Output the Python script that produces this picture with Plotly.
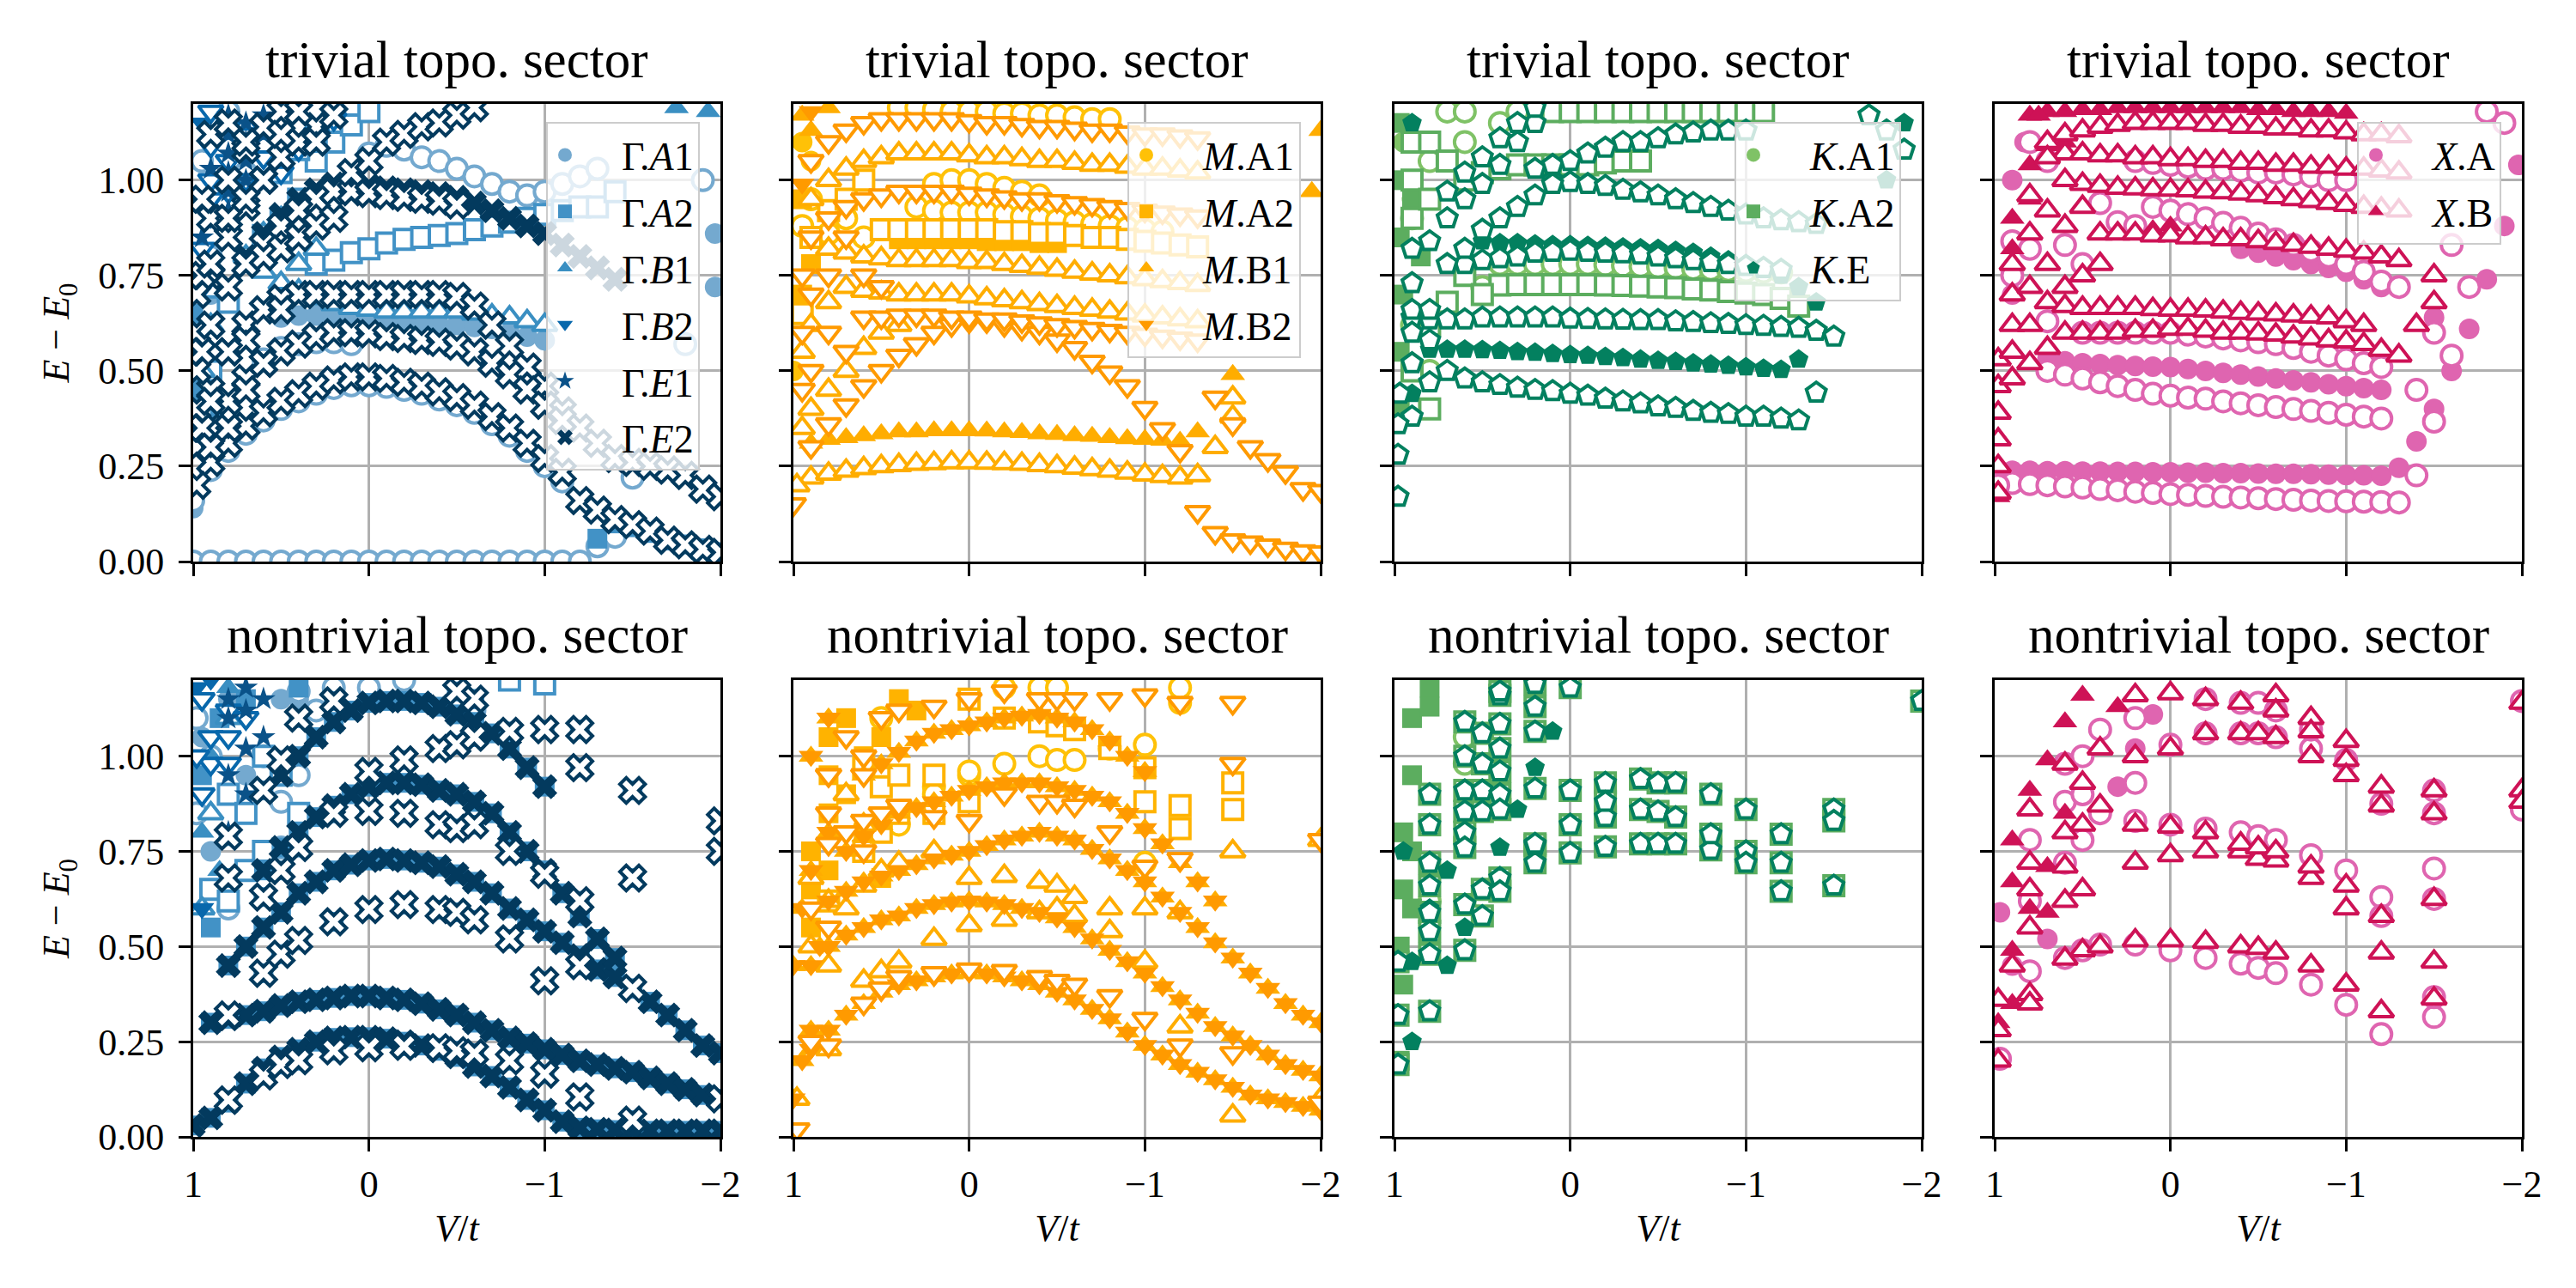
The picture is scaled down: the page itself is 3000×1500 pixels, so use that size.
import plotly.graph_objects as go
from plotly.subplots import make_subplots

# V/t values of the scan (dense grid) and of the larger cluster (sparse grid)
V = [1.0, 0.9, 0.8, 0.7, 0.6, 0.5, 0.4, 0.3, 0.2, 0.1, 0.0, -0.1, -0.2, -0.3, -0.4,
     -0.5, -0.6, -0.7, -0.8, -0.9, -1.0, -1.1, -1.2, -1.3, -1.4, -1.5, -1.6, -1.7,
     -1.8, -1.9, -2.0]
VS = [0.8, 0.6, 0.5, 0.4, 0.2, 0.0, -0.2, -0.4, -0.5, -0.6, -0.8, -1.0, -1.2, -1.5, -2.0]

# ---------------- Gamma, trivial sector (E - E0) ----------------
gt_a1_o_zero = [0.0, 0.0, 0.0, 0.0, 0.0, 0.0, 0.0, 0.0, 0.0, 0.0, 0.0, 0.0, 0.0, 0.0,
                0.0, 0.0, 0.0, 0.0, 0.0, 0.0, 0.0, 0.0, 0.0]
gt_a1_o_low = [0.24, 0.29, 0.335, 0.37, 0.40, 0.42, 0.44, 0.455, 0.462, 0.462, 0.458, 0.45,
               0.44, 0.425, 0.41, 0.39, 0.36, 0.33, 0.29, 0.25, 0.21]
gt_a1_o_mid = [0.53, 0.56, 0.57, 0.575, 0.575, 0.57]
gt_a1_o_hi = [1.07, 1.09, 1.08, 1.06, 1.05, 1.03, 1.01, 0.99, 0.97, 0.96, 0.97, 0.99, 1.01, 1.03]
gt_a1_f_mid = [0.64, 0.645, 0.645, 0.645, 0.64, 0.64, 0.635, 0.63, 0.625, 0.62, 0.62, 0.615,
               0.61, 0.6, 0.59, 0.58]
gt_a1_f_pts_x = [1.0, 0.95, 0.9, -1.97, -1.97]
gt_a1_f_pts_y = [0.14, 0.4, 0.7, 0.86, 0.72]
gt_a1_o_pts_x = [1.0, 0.98, 0.95, 0.9, 0.8, 0.7, -1.3, -1.4, -1.5, -1.8, -1.9]
gt_a1_o_pts_y = [0.16, 0.55, 1.05, 0.8, 1.18, 1.02, 0.04, 0.065, 0.22, 0.57, 1.0]
gt_a2_o_mid = [0.78, 0.79, 0.81, 0.82, 0.835, 0.845, 0.85, 0.855, 0.86, 0.87, 0.88, 0.89, 0.9,
               0.91, 0.92, 0.93, 0.93]
gt_a2_o_top = [1.05, 1.1, 1.145, 1.18]
gt_a2_o_pts_x = [0.95, 0.9, 0.9, 0.8, 0.6, 0.5, 0.5, 0.4, 0.4, 0.3, -1.4]
gt_a2_o_pts_y = [0.4, 0.5, 0.72, 0.68, 0.855, 0.9, 1.02, 0.95, 1.08, 1.12, 0.97]
gt_a2_f_tail = [0.06, 0.1, 0.09, 0.075, 0.055, 0.045, 0.035, 0.025]
gt_a2_f_pts_x = [0.95, 0.9, 1.0]
gt_a2_f_pts_y = [0.45, 0.395, 0.65]
gt_b1_o_mid = [0.8, 0.76, 0.73, 0.71, 0.69, 0.675, 0.665, 0.66, 0.655, 0.655, 0.655, 0.655,
               0.655, 0.65, 0.645, 0.64, 0.63, 0.62]
gt_b1_o_pts_x = [0.95, 0.9, 0.6, 0.5, 0.4, 0.3]
gt_b1_o_pts_y = [0.5, 0.62, 0.86, 0.9, 0.78, 0.82]
gt_b1_f_pts_x = [1.0, -1.75, -1.93]
gt_b1_f_pts_y = [0.6, 1.19, 1.18]
gt_b2_o_pts_x = [0.95, 0.95, 0.9, 0.9, 0.9, 0.9, 0.8, 0.8, 0.8, 0.7, 0.7, 0.6, 0.6, 0.5, 0.4,
                 0.3, 0.2]
gt_b2_o_pts_y = [0.82, 0.72, 1.18, 1.09, 1.0, 0.95, 1.14, 1.05, 0.97, 1.12, 1.0, 1.14, 1.06,
                 1.02, 1.08, 1.12, 1.16]
gt_b2_f_pts_x = [0.95, 0.9]
gt_b2_f_pts_y = [1.15, 0.9]
gt_e1_f_pts_x = [0.95, 0.95, 0.9, 0.9, 0.8, 0.8, 0.8, 0.8, 0.8, 0.8, 0.7, 0.7, 0.7, 0.7, 0.6, 0.6]
gt_e1_f_pts_y = [0.85, 0.6, 1.12, 1.03, 1.17, 1.12, 1.07, 1.02, 0.97, 0.92, 1.15, 1.1, 1.05,
                 1.0, 1.17, 1.12]
gt_e2_f_hi = [0.8, 0.86, 0.91, 0.95, 0.975, 0.99, 0.99, 0.985, 0.98, 0.975, 0.97, 0.965, 0.955,
              0.94, 0.92, 0.9, 0.88, 0.86, 0.83, 0.8, 0.77, 0.74]
gt_e2_o_low = [None, 0.26, 0.31, 0.355, 0.39, 0.42, 0.44, 0.46, 0.476, 0.484, 0.484, 0.48, 0.47,
               0.46, 0.445, 0.43, 0.41, 0.38, 0.35, 0.31, 0.27, 0.234, 0.16, 0.135, 0.11, 0.097,
               0.08, 0.056, 0.044, 0.032, 0.024]
gt_e2_o_mida = [0.45, 0.55, 0.62, 0.66, 0.69, 0.70, 0.70, 0.70, 0.70, 0.70, 0.70, 0.70, 0.70,
                0.70, 0.695, 0.67, 0.62, 0.565, 0.51, 0.46, 0.395, 0.35, 0.31, 0.27, 0.26, 0.25,
                0.24, 0.226, 0.19, 0.17]
gt_e2_o_midb = [0.35, 0.42, 0.48, 0.52, 0.55, 0.57, 0.59, 0.6, 0.6, 0.597, 0.59, 0.585, 0.58,
                0.575, 0.565, 0.55, 0.52, 0.49, 0.45, 0.41, 0.37]
gt_e2_o_hi = [0.83, 0.88, 0.92, 0.95, 0.97, 0.97, 0.965, 0.96, 0.955, 0.95, 0.945, 0.935]
gt_e2_o_top = [1.02, 1.05, 1.1, 1.12, 1.14, 1.15, 1.17, 1.19]
gt_e2_o_rise1 = [0.75, 0.85, 0.93, 1.0, 1.06, 1.1, 1.14, 1.17]
gt_e2_o_rise2 = [0.9, 1.0, 1.08, 1.14, 1.18]
gt_e2_o_pts_x = [0.98, 0.98, 0.98, 0.98, 0.98, 0.98, 0.95, 0.95, 0.95, 0.95, 0.9, 0.8, 0.7, 0.6,
                 0.5, 0.9, 0.9, 0.9, 0.9, 0.8, 0.8, 0.8, 0.8, 0.7, 0.7, 0.7, 0.7, 0.6, 0.6, 0.6,
                 0.5, 0.5, 0.4, 0.4, 0.4, 0.3, 0.3, 0.2]
gt_e2_o_pts_y = [0.2, 0.3, 0.4, 0.5, 0.6, 0.7, 0.35, 0.55, 0.75, 0.95, 0.62, 0.72, 0.58, 0.83,
                 0.66, 0.3, 0.42, 0.78, 1.12, 0.35, 0.55, 0.9, 1.15, 0.45, 0.78, 0.95, 1.1, 0.52,
                 0.8, 1.0, 0.82, 1.12, 0.85, 0.92, 1.18, 0.88, 1.1, 0.9]

# ---------------- M, trivial sector ----------------
mt_a1_o_r1 = [0.93, 0.92, 0.915, 0.915, 0.915, 0.91, 0.905, 0.9, 0.895, 0.89, 0.885, 0.88,
              0.875, 0.87, 0.865]
mt_a1_o_r2 = [0.99, 1.0, 1.0, 0.99, 0.98, 0.97, 0.96]
mt_a1_o_top = [1.19, 1.19, 1.185, 1.18, 1.18, 1.18, 1.175, 1.175, 1.17, 1.17, 1.165, 1.16, 1.16]
mt_a1_o_pts_x = [0.95, 0.9, 0.8, 0.7, 0.6]
mt_a1_o_pts_y = [0.88, 0.95, 0.86, 0.9, 0.85]
mt_a1_f_pts_x = [1.0, 0.95, 0.9]
mt_a1_f_pts_y = [0.5, 1.1, 1.05]
mt_a2_f_r1 = [0.845, 0.845, 0.845, 0.845, 0.845, 0.84, 0.84, 0.84, 0.835, 0.835]
mt_a2_o_r1 = [0.87, 0.87, 0.87, 0.87, 0.87, 0.87, 0.87, 0.865, 0.865, 0.86, 0.86, 0.855, 0.85,
              0.85, 0.845, 0.84, 0.835, 0.83, 0.825]
mt_a2_o_pts_x = [0.95, 0.9, 0.8, 0.7, 0.6]
mt_a2_o_pts_y = [0.65, 0.85, 0.92, 0.95, 1.0]
mt_a2_f_pts_x = [0.95, 0.95, 0.9]
mt_a2_f_pts_y = [0.95, 0.7, 0.78]
mt_b1_f_low = [0.31, 0.32, 0.325, 0.33, 0.335, 0.34, 0.34, 0.343, 0.343, 0.343, 0.342, 0.34,
               0.338, 0.335, 0.333, 0.33, 0.328, 0.325, 0.322, 0.32, 0.318, 0.315]
mt_b1_f_pts_x = [-1.3, -1.5, -1.95, -2.0, 0.95, 0.9, 0.8]
mt_b1_f_pts_y = [0.34, 0.49, 0.97, 1.13, 1.17, 1.13, 1.19]
mt_b1_o_low = [0.22, 0.23, 0.238, 0.245, 0.25, 0.253, 0.256, 0.258, 0.26, 0.26, 0.259, 0.258,
               0.256, 0.253, 0.25, 0.246, 0.242, 0.238, 0.233, 0.228, 0.224, 0.22]
mt_b1_o_r1 = [0.72, 0.71, 0.705, 0.7, 0.7, 0.7, 0.7, 0.695, 0.69, 0.685, 0.68, 0.675, 0.67,
              0.665, 0.66, 0.655, 0.65, 0.645, 0.64, 0.635, 0.63]
mt_b1_o_r2 = [0.82, 0.81, 0.8, 0.795, 0.79, 0.79, 0.79, 0.79, 0.785, 0.785, 0.78, 0.775, 0.77,
              0.765, 0.76, 0.755, 0.75, 0.745, 0.74, 0.735, 0.73, 0.725]
mt_b1_o_r3 = [0.95, 1.0, 1.03, 1.05, 1.06, 1.07, 1.07, 1.07, 1.07, 1.065, 1.06, 1.06, 1.055,
              1.05, 1.05, 1.045, 1.04, 1.04, 1.035, 1.03, 1.03, 1.025, 1.02]
mt_b1_o_tail_x = [-1.3, -1.4, -1.5, -1.5]
mt_b1_o_tail_y = [0.226, 0.3, 0.43, 0.38]
mt_b1_o_pts_x = [0.98, 0.95, 0.95, 0.9, 0.9, 0.8, 0.8, 0.7, 0.6, 0.5, 0.4]
mt_b1_o_pts_y = [0.2, 0.35, 0.55, 0.4, 0.62, 0.45, 0.68, 0.5, 0.56, 0.6, 0.62]
mt_b2_f_pts_x = [0.9, 0.95, 1.0]
mt_b2_f_pts_y = [1.18, 0.99, 0.15]
mt_b2_o_arc = [0.15, 0.3, 0.36, 0.41, 0.46, 0.5, 0.54, 0.57, 0.6, 0.62, 0.63, 0.63, 0.62, 0.61,
               0.6, 0.58, 0.56, 0.524, 0.496, 0.46, 0.403, 0.347, 0.29]
mt_b2_o_r1 = [0.64, 0.64, 0.645, 0.645, 0.645, 0.64, 0.64, 0.635, 0.635, 0.63, 0.625, 0.62,
              0.615, 0.61, 0.605, 0.6, 0.595, 0.59, 0.585, 0.58]
mt_b2_o_r2 = [0.85, 0.9, 0.93, 0.95, 0.96, 0.97, 0.97, 0.97, 0.97, 0.965, 0.96, 0.955, 0.95,
              0.95, 0.945, 0.94, 0.935, 0.93, 0.925, 0.92, 0.915, 0.91, 0.905]
mt_b2_o_r3 = [1.05, 1.1, 1.13, 1.15, 1.16, 1.16, 1.16, 1.16, 1.16, 1.155, 1.15, 1.15, 1.145,
              1.14, 1.14, 1.135, 1.13, 1.13, 1.125, 1.12, 1.12, 1.115, 1.11]
mt_b2_o_tail_hi = [0.43, 0.36, 0.3, 0.266, 0.234, 0.19, 0.185]
mt_b2_o_tail_lo = [0.13, 0.075, 0.056, 0.05, 0.042, 0.034, 0.027, 0.024]
mt_b2_o_pts_x = [0.95, 0.95, 0.95, 0.9, 0.9, 0.8, 0.8, 0.7, 0.7, 0.6, 0.5]
mt_b2_o_pts_y = [0.45, 0.6, 0.75, 0.5, 0.7, 0.6, 0.75, 0.55, 0.85, 0.75, 0.72]

# ---------------- K, trivial sector ----------------
kt_a1_o_1 = [0.78, 0.78, 0.78, 0.78, 0.78, 0.78, 0.778, 0.776, 0.774, 0.772, 0.77, 0.768,
             0.766, 0.764, 0.762, 0.76, 0.758]
kt_a1_o_pts_x = [0.9, 0.8, 0.7, 0.6, 0.6, 0.5, 0.4, 0.3, 0.9, 0.8]
kt_a1_o_pts_y = [0.9, 1.05, 1.18, 1.18, 1.1, 0.72, 1.15, 1.18, 0.62, 0.5]
kt_a1_f_pts_x = [0.95, 0.9]
kt_a1_f_pts_y = [1.1, 0.95]
kt_a2_o_1 = [0.725, 0.726, 0.726, 0.726, 0.726, 0.726, 0.725, 0.724, 0.722, 0.72, 0.718, 0.715,
             0.712, 0.708, 0.704, 0.7, 0.69, 0.67]
kt_a2_o_top = [1.18, 1.18, 1.18, 1.18, 1.18, 1.18, 1.18, 1.18, 1.18, 1.18, 1.18, 1.18, 1.18]
kt_a2_o_2 = [1.0, 1.02, 1.03, 1.04, 1.04, 1.04, 1.04, 1.04, 1.045, 1.05, 1.05]
kt_a2_o_pts_x = [0.9, 0.9, 0.9, 0.8, 0.8, 0.8, 0.7, 0.7, 0.6, 0.5, 0.9, 0.8]
kt_a2_o_pts_y = [1.1, 1.0, 0.9, 1.1, 0.95, 0.62, 1.05, 0.68, 0.75, 0.7, 0.5, 0.4]
kt_a2_f_pts_x = [0.97, 0.97, 0.97, 0.95, 0.9, 0.9, 0.85, 0.97, 0.97]
kt_a2_f_pts_y = [1.15, 1.0, 0.85, 0.7, 1.1, 0.95, 0.8, 0.55, 0.4]
kt_e_f_low = [0.556, 0.556, 0.556, 0.555, 0.553, 0.55, 0.548, 0.545, 0.542, 0.54, 0.537, 0.534,
              0.53, 0.527, 0.524, 0.52, 0.517, 0.514, 0.51, 0.506, 0.503, 0.53]
kt_e_f_2 = [0.84, 0.835, 0.835, 0.832, 0.83, 0.83, 0.828, 0.826, 0.824, 0.822, 0.82, 0.815,
            0.81, 0.8, 0.79, 0.78, 0.765, 0.75, 0.72, 0.68]
kt_e_f_pts_x = [0.98, 0.9, 0.9, -1.4, -1.8, -1.9]
kt_e_f_pts_y = [0.17, 0.44, 1.15, 0.605, 1.0, 1.15]
kt_e_o_low = [0.38, 0.47, 0.5, 0.48, 0.47, 0.463, 0.456, 0.45, 0.447, 0.44, 0.435, 0.427, 0.42,
              0.415, 0.407, 0.403, 0.395, 0.39, 0.387, 0.38, 0.38, 0.375, 0.37, 0.443]
kt_e_o_2 = [0.64, 0.635, 0.635, 0.635, 0.64, 0.64, 0.64, 0.64, 0.64, 0.637, 0.636, 0.635, 0.634,
            0.633, 0.633, 0.63, 0.628, 0.625, 0.623, 0.62, 0.618, 0.615, 0.613, 0.605, 0.59]
kt_e_o_3 = [0.78, 0.79, 0.795, 0.8, 0.81, 0.812, 0.815, 0.812, 0.81, 0.808, 0.805, 0.8, 0.795,
            0.79, 0.785, 0.78, 0.775, 0.77, 0.765]
kt_e_o_4 = [1.0, 0.995, 0.99, 0.985, 0.975, 0.968, 0.96, 0.95, 0.94, 0.93, 0.92, 0.91, 0.9,
            0.895, 0.89, 0.885]
kt_e_o_5 = [1.03, 1.04, 1.05, 1.07, 1.085, 1.1, 1.1, 1.11, 1.12, 1.125, 1.13, 1.13, 1.13]
kt_e_o_6 = [0.84, 0.9, 0.95, 0.99, 1.04, 1.1, 1.15]
kt_e_o_7 = [0.97, 1.02, 1.06, 1.11, 1.15, 1.19]
kt_e_o_8 = [0.78, 0.82, 0.87, 0.9, 0.93, 0.96, 0.99]
kt_e_o_pts_x = [0.98, 0.98, 0.98, 0.97, 0.9, 0.9, 0.9, 0.9, 0.9, 0.8, 0.8, -1.7, -1.8, -1.9]
kt_e_o_pts_y = [0.17, 0.28, 0.36, 0.44, 0.52, 0.6, 0.66, 0.73, 0.82, 0.58, 0.66, 1.17, 1.13, 1.08]

# ---------------- X, trivial sector ----------------
xt_a_f_low = [0.238, 0.238, 0.237, 0.237, 0.236, 0.236, 0.235, 0.235, 0.234, 0.234, 0.233,
              0.233, 0.232, 0.232, 0.231, 0.23, 0.23, 0.229, 0.228, 0.227, 0.226, 0.225, 0.246]
xt_a_f_2 = [0.53, 0.525, 0.52, 0.518, 0.515, 0.513, 0.511, 0.51, 0.505, 0.5, 0.495, 0.49,
            0.485, 0.48, 0.475, 0.47, 0.465, 0.46, 0.455, 0.45]
xt_a_f_4 = [0.82, 0.81, 0.8, 0.79, 0.78, 0.77, 0.76, 0.74, 0.72]
xt_a_f_right_x = [-1.4, -1.5, -1.5, -1.6, -1.7, -1.8, -1.9, -1.98]
xt_a_f_right_y = [0.315, 0.4, 0.64, 0.5, 0.61, 0.74, 0.88, 1.04]
xt_a_f_pts_x = [1.0, 0.9, 0.83, 0.9]
xt_a_f_pts_y = [0.24, 1.0, 1.1, 0.7]
xt_a_o_low = [0.206, 0.203, 0.2, 0.197, 0.194, 0.19, 0.187, 0.183, 0.18, 0.177, 0.175, 0.172,
              0.17, 0.168, 0.166, 0.164, 0.162, 0.16, 0.159, 0.158, 0.157, 0.156, 0.155]
xt_a_o_2 = [0.5, 0.49, 0.48, 0.47, 0.46, 0.45, 0.44, 0.435, 0.43, 0.427, 0.42, 0.415, 0.41,
            0.405, 0.4, 0.395, 0.39, 0.385, 0.38, 0.375]
xt_a_o_3 = [0.6, 0.6, 0.6, 0.6, 0.6, 0.6, 0.595, 0.59, 0.585, 0.58, 0.575, 0.57, 0.56, 0.55,
            0.54, 0.53, 0.52, 0.51]
xt_a_o_4 = [0.93, 0.92, 0.911, 0.9, 0.888, 0.875, 0.86, 0.845, 0.83, 0.815, 0.8, 0.78, 0.76,
            0.734, 0.72]
xt_a_o_5 = [1.05, 1.045, 1.04, 1.035, 1.03, 1.03, 1.025, 1.02, 1.02, 1.015, 1.01, 1.0, 1.0]
xt_a_o_right_x = [-1.4, -1.4, -1.5, -1.5, -1.6, -1.6, -1.7, -1.8, -1.9]
xt_a_o_right_y = [0.226, 0.45, 0.367, 0.6, 0.54, 0.83, 0.72, 1.18, 1.15]
xt_a_o_pts_x = [0.98, 0.9, 0.9, 0.8, 0.8, 0.7, 0.7, 0.6, 0.5, 0.4, 0.3, 0.2]
xt_a_o_pts_y = [0.2, 0.84, 0.75, 1.1, 0.82, 1.05, 0.63, 0.83, 0.78, 0.94, 0.89, 0.88]
xt_b_f_top = [1.17, 1.18, 1.18, 1.185, 1.185, 1.19, 1.19, 1.19, 1.19, 1.19, 1.19, 1.19, 1.19,
              1.185, 1.185, 1.18, 1.18, 1.18, 1.175]
xt_b_f_pts_x = [0.98, 0.9, 0.9, 0.8, 0.8, 0.75, 0.7, 0.6, 0.1, 0.0]
xt_b_f_pts_y = [0.17, 0.82, 0.9, 1.04, 0.95, 1.17, 1.09, 1.1, 0.87, 0.88]
xt_b_o_1 = [0.6, 0.6, 0.6, 0.6, 0.605, 0.605, 0.61, 0.61, 0.605, 0.6, 0.6, 0.598, 0.595, 0.59,
            0.585, 0.58, 0.577, 0.57, 0.555, 0.54]
xt_b_o_2 = [0.68, 0.67, 0.665, 0.665, 0.665, 0.665, 0.662, 0.66, 0.66, 0.658, 0.655, 0.652,
            0.65, 0.648, 0.645, 0.642, 0.64, 0.63, 0.62]
xt_b_o_3 = [0.86, 0.86, 0.86, 0.855, 0.855, 0.85, 0.85, 0.845, 0.845, 0.84, 0.835, 0.83, 0.825,
            0.82, 0.815, 0.81, 0.8, 0.79]
xt_b_o_4 = [0.99, 0.985, 0.98, 0.978, 0.976, 0.975, 0.973, 0.97, 0.968, 0.965, 0.96, 0.955,
            0.95, 0.945, 0.94, 0.935, 0.93, 0.925, 0.92]
xt_b_o_5 = [1.07, 1.07, 1.065, 1.065, 1.06, 1.06, 1.055, 1.055, 1.05, 1.05, 1.045, 1.045, 1.04,
            1.04, 1.035, 1.035, 1.03, 1.03, 1.025, 1.02]
xt_b_o_6 = [1.1, 1.12, 1.13, 1.14, 1.145, 1.15, 1.15, 1.15, 1.15, 1.145, 1.145, 1.14, 1.14,
            1.135, 1.135, 1.13, 1.13, 1.125, 1.12, 1.12, 1.115]
xt_b_o_right_x = [-1.4, -1.5, -1.5]
xt_b_o_right_y = [0.62, 0.75, 0.68]
xt_b_o_pts_x = [0.98, 0.98, 0.98, 0.98, 0.98, 0.98, 0.9, 0.9, 0.9, 0.9, 0.9, 0.8, 0.8, 0.8,
                0.8, 0.8, 0.7, 0.7, 0.7, 0.7, 0.6, 0.6, 0.6, 0.5, 0.5, 0.4]
xt_b_o_pts_y = [0.18, 0.25, 0.32, 0.39, 0.46, 0.53, 0.48, 0.55, 0.62, 0.7, 0.78, 0.52, 0.62,
                0.72, 0.86, 0.96, 0.56, 0.78, 0.92, 1.06, 0.72, 0.88, 1.0, 0.75, 0.93, 0.78]

# ---------------- Gamma, nontrivial sector ----------------
gb_e2_f_1 = [0.03, 0.05, 0.09, 0.14, 0.18, 0.21, 0.23, 0.25, 0.26, 0.262, 0.262, 0.258, 0.25,
             0.24, 0.226, 0.21, 0.185, 0.16, 0.13, 0.097, 0.07, 0.04, 0.024, 0.02, 0.018, 0.017,
             0.016, 0.016, 0.016, 0.016, 0.016]
gb_e2_f_2 = [0.3, 0.31, 0.32, 0.33, 0.345, 0.355, 0.36, 0.365, 0.37, 0.37, 0.365, 0.36, 0.35,
             0.335, 0.32, 0.3, 0.28, 0.26, 0.245, 0.23, 0.215, 0.2, 0.19, 0.18, 0.17, 0.155,
             0.14, 0.125, 0.11, 0.1]
gb_e2_f_3 = [0.45, 0.5, 0.55, 0.59, 0.64, 0.67, 0.7, 0.715, 0.726, 0.73, 0.726, 0.72, 0.71,
             0.69, 0.67, 0.64, 0.6, 0.57, 0.54, 0.51, 0.476, 0.44, 0.42, 0.39, 0.355, 0.32,
             0.28, 0.24, 0.22]
gb_e2_f_4 = [0.7, 0.76, 0.8, 0.84, 0.87, 0.9, 0.92, 0.93, 0.93, 0.925, 0.91, 0.9, 0.88, 0.85,
             0.8, 0.75, 0.7, 0.64, 0.58, 0.52, 0.47]
gb_e2_f_5 = [0.95, 1.0, 1.05, 1.09, 1.12, 1.14, 1.145, 1.145, 1.14, 1.13, 1.11, 1.09, 1.06,
             1.02, 0.97, 0.92]
gb_e2_o_1 = [0.097, 0.16, 0.19, 0.2, 0.226, 0.234, 0.238, 0.234, 0.226, 0.22, 0.2, 0.165,
             0.105, 0.044, 0.1]
gb_e2_o_2 = [0.32, 0.43, 0.48, 0.516, 0.565, 0.597, 0.61, 0.597, 0.59, 0.57, 0.52, 0.41, 0.45,
             0.39, None]
gb_e2_o_3 = [0.68, 0.63, 0.7, 0.76, 0.85, 0.855, 0.85, 0.82, 0.81, 0.82, 0.75, 0.69, 0.62,
             0.68, 0.75]
gb_e2_o_4 = [0.79, 0.91, 0.99, 1.1, 1.145, 0.96, 0.99, 1.02, 1.03, 1.05, 1.065, 1.07, 1.07,
             0.91, 0.83]
gb_e2_o_pts_x = [-1.2, -0.6, -0.5]
gb_e2_o_pts_y = [0.97, 1.15, 1.17]
gb_a1_o_pts_x = [0.98, 0.98, 0.9, 0.8, 0.6, 0.5, 0.5, 0.4, 0.4, 0.3, 0.2, 0.0, -0.2, -0.6]
gb_a1_o_pts_y = [1.1, 0.85, 1.0, 0.6, 1.0, 0.88, 0.76, 1.17, 0.95, 1.12, 1.18, 1.18, 1.2, 1.12]
gb_a1_f_pts_x = [0.95, 0.9, 0.8, 0.7, 0.5, 0.4]
gb_a1_f_pts_y = [1.05, 0.75, 1.15, 0.95, 1.15, 1.15]
gb_a2_o_pts_x = [0.9, 0.8, 0.8, 0.7, 0.7, 0.6, 0.6, 0.5, 0.4, -0.8, -1.0]
gb_a2_o_pts_y = [0.65, 0.9, 0.62, 0.85, 0.7, 1.0, 0.75, 0.95, 0.85, 1.2, 1.19]
gb_a2_f_pts_x = [0.95, 0.9, 0.85, 0.7, 0.4, -0.6]
gb_a2_f_pts_y = [0.95, 0.55, 1.1, 1.15, 1.18, 1.15]
gb_b1_o_pts_x = [0.95, 0.9, 0.8]
gb_b1_o_pts_y = [0.6, 0.85, 1.1]
gb_b1_f_pts_x = [0.95, 0.9, 0.85, 0.8]
gb_b1_f_pts_y = [0.8, 1.0, 0.7, 1.18]
gb_b2_o_pts_x = [0.95, 0.9, 0.9, 0.8, 0.8, 0.8, 0.7, 0.95, 0.98]
gb_b2_o_pts_y = [1.15, 1.05, 0.98, 1.12, 1.05, 0.98, 1.1, 0.9, 1.0]
gb_b2_f_pts_x = [0.98, 0.95, 0.9]
gb_b2_f_pts_y = [1.18, 0.6, 1.2]
gb_e1_f_pts_x = [0.8, 0.8, 0.8, 0.7, 0.7, 0.7, 0.6, 0.6, 0.8, 0.7]
gb_e1_f_pts_y = [1.15, 1.1, 0.95, 1.18, 1.12, 1.02, 1.15, 1.05, 0.8, 0.9]

# ---------------- M, nontrivial sector ----------------
mb_f_1 = [0.23, 0.28, 0.32, 0.35, 0.38, 0.4, 0.41, 0.42, 0.428, 0.43, 0.428, 0.42, 0.41, 0.4,
          0.38, 0.36, 0.335, 0.31, 0.275, 0.24, 0.215, 0.19, 0.17, 0.15, 0.13, 0.11, 0.1,
          0.09, 0.08, 0.07]
mb_f_2 = [0.45, 0.5, 0.53, 0.55, 0.57, 0.58, 0.6, 0.61, 0.617, 0.62, 0.617, 0.61, 0.6, 0.59,
          0.575, 0.55, 0.52, 0.49, 0.46, 0.43, 0.395, 0.36, 0.325, 0.29, 0.265, 0.24, 0.215,
          0.19, 0.175, 0.16]
mb_f_3 = [0.62, 0.645, 0.67, 0.685, 0.7, 0.715, 0.73, 0.74, 0.75, 0.765, 0.78, 0.79, 0.8, 0.79,
          0.78, 0.755, 0.73, 0.7, 0.67, 0.63, 0.59, 0.55, 0.51, 0.47, 0.43, 0.39, 0.35, 0.32,
          0.3]
mb_f_4 = [0.75, 0.79, 0.82, 0.85, 0.865, 0.88, 0.895, 0.91, 0.92, 0.93, 0.93, 0.93, 0.92, 0.91,
          0.895, 0.88, 0.85, 0.81, 0.77, 0.72, 0.67, 0.62]
mb_f_5 = [0.95, 0.98, 1.01, 1.04, 1.06, 1.07, 1.08, 1.09, 1.1, 1.105, 1.11, 1.1, 1.09, 1.07,
          1.04, 1.0, 0.96]
mb_b_f_pts_x = [1.0, 1.0, 0.95, 0.95, 0.9, 0.9, 0.85, 0.8, 0.9, 0.8]
mb_b_f_pts_y = [0.1, 0.45, 0.6, 0.2, 0.7, 0.28, 0.5, 0.8, 1.0, 1.1]
mb_a2_f_pts_x = [0.9, 0.9, 0.9, 0.8, 0.8, 0.8, 0.8, 0.7, 0.7, 0.6, 0.6, 0.5, 0.5, 0.4, 0.3]
mb_a2_f_pts_y = [0.55, 0.65, 0.75, 0.7, 0.85, 0.95, 1.05, 0.9, 1.1, 1.0, 0.8, 1.05, 0.68,
                 1.15, 1.12]
mb_a1_o_1 = [None, None, None, 0.82, 0.92, 0.95, 0.98, 1.0, 0.99, 0.99, 1.02, 1.03, 1.14, None,
             None]
mb_a1_o_2 = [None, None, 1.1, None, 0.9, 0.96, 1.18, 1.18, 1.18, None, None, 0.72, 1.18, None,
             None]
mb_a2_o_1 = [0.62, 0.75, 0.8, 0.85, 0.85, 0.88, 1.1, 1.09, 1.08, 1.07, 1.02, 0.97, 0.87, 0.93,
             None]
mb_a2_o_2 = [None, 0.97, 0.92, 0.95, 0.95, 1.15, None, None, None, None, None, 0.88, 0.81,
             0.86, None]
mb_b1_o_1 = [0.23, 0.41, 0.435, 0.46, 0.52, 0.556, 0.57, 0.59, 0.6, 0.58, 0.54, 0.46, 0.29,
             0.056, 0.1]
mb_b1_o_2 = [0.62, 0.66, 0.7, 0.72, 0.75, 0.68, 0.685, 0.67, 0.66, 0.63, 0.6, 0.6, 0.59, 0.75,
             0.78]
mb_b1_o_pts_x = [0.98, 0.9, 0.9, 0.8, 0.7, 0.7, 0.6]
mb_b1_o_pts_y = [0.1, 0.5, 0.68, 0.45, 0.6, 0.9, 0.82]
mb_b2_o_1 = [0.24, 0.35, 0.39, 0.42, 0.43, 0.44, 0.436, 0.42, 0.41, 0.4, 0.37, 0.31, 0.24,
             0.22, 0.09]
mb_b2_o_2 = [0.77, 0.83, 0.85, 0.87, 0.84, 0.83, 0.9, 0.88, 0.88, 0.87, 0.8, 0.71, 0.73, 0.98,
             0.78]
mb_b2_o_3 = [0.95, 1.0, 1.1, 1.12, 1.13, 1.15, 1.17, 1.15, 1.15, 1.15, 1.15, 1.16, 1.14, 1.14,
             None]
mb_b2_o_pts_x = [0.98, 0.9, 0.9, 0.8, 0.8, 0.8, 0.7, 0.7, 0.6, 0.6]
mb_b2_o_pts_y = [0.02, 0.25, 0.6, 0.95, 0.85, 0.55, 1.05, 0.8, 0.95, 0.75]

# ---------------- K, nontrivial sector ----------------
kb_e_o_x = [0.2, 0.0, -0.2, -0.4, -0.5, -0.6, -0.8, -1.0, -1.2, -1.2, -1.5,
            0.2, 0.0, -0.2, -0.4, -0.5, -0.6, -0.8, -1.0, -1.2, -1.5, -1.5,
            0.2, 0.0, -0.2, -0.2, -0.4, -0.5, -0.6, -0.8, -1.0,
            0.2, 0.0, 0.2, 0.2, 0.4, -2.0,
            0.8, 0.8, 0.8, 0.8, 0.8, 0.8, 0.8, 0.8,
            0.6, 0.6, 0.6, 0.6, 0.6, 0.6, 0.6, 0.6,
            0.5, 0.5, 0.5, 0.5, 0.5, 0.5,
            0.4, 0.4, 0.4, 0.4, 0.4, 0.4, 0.4, 0.4,
            0.2, 0.98, 0.98, 0.98]
kb_e_o_y = [0.72, 0.746, 0.762, 0.77, 0.77, 0.77, 0.754, 0.75, 0.72, 0.645, 0.66,
            0.766, 0.82, 0.84, 0.86, 0.855, 0.84, 0.795, 0.72, 0.795, 0.86, 0.83,
            0.915, 0.91, 0.93, 0.88, 0.94, 0.93, 0.93, 0.9, 0.86,
            1.065, 1.18, 1.13, 1.19, 1.16, 1.145,
            0.9, 0.82, 0.72, 0.66, 0.59, 0.54, 0.48, 0.33,
            1.09, 1.0, 0.91, 0.855, 0.8, 0.76, 0.61, 0.49,
            1.06, 0.98, 0.91, 0.855, 0.65, 0.58,
            1.17, 1.085, 1.02, 0.96, 0.9, 0.86, 0.68, 0.645,
            0.77, 0.46, 0.32, 0.19]
kb_e_f_x = [0.4, 0.2, 0.1, 0.7, 0.6, 0.7, 0.9, 0.9, 0.3, 0.8, 0.95]
kb_e_f_y = [0.76, 0.97, 1.065, 0.7, 0.55, 0.45, 0.25, 0.46, 0.86, 0.6, 0.75]
kb_a2_f_x = [0.9, 0.9, 0.95, 0.95, 0.8, 0.8, 0.9, 0.9, 0.97, 0.95, 0.97]
kb_a2_f_y = [1.1, 0.95, 0.8, 0.65, 1.18, 1.13, 0.75, 0.6, 0.5, 0.4, 0.2]
kb_a1_o_x = [0.6, 0.6, 0.8]
kb_a1_o_y = [1.05, 0.98, 0.62]

# ---------------- X, nontrivial sector ----------------
xb_a_o_x = [0.97, 0.8, 0.6, 0.5, 0.4, 0.2, 0.0, -0.2, -0.4, -0.5, -0.6, -0.8, -1.0, -1.2, -1.5,
            -1.5, 0.2, 0.0, -0.2, -0.4, -0.5, -0.6, -0.8, -1.0, -1.2, -1.5, -1.5, -1.2,
            0.0, -0.2, -0.4, -0.5, -0.6, -0.8, -1.0, -1.2, -1.5, -1.5, -2.0, -0.2, -0.4, -0.5,
            -0.6, -0.8, -2.0, 0.8, 0.6, 0.5, 0.4, 0.2, 0.8, 0.6, 0.5, 0.4, 0.2, 0.6, 0.5]
xb_a_o_y = [0.205, 0.435, 0.47, 0.49, 0.505, 0.505, 0.49, 0.47, 0.455, 0.444, 0.43, 0.4, 0.347,
            0.27, 0.315, 0.367, 0.83, 0.82, 0.81, 0.8, 0.79, 0.78, 0.74, 0.7, 0.63, 0.705,
            0.625, 0.58, 1.03, 1.06, 1.06, 1.06, 1.05, 1.02, 0.99, 0.875, 0.91, 0.85, 0.86,
            1.15, 1.14, 1.14, 1.12, 1.07, 1.145, 0.62, 0.72, 0.78, 0.85, 0.93, 0.78, 0.98,
            1.0, 1.07, 1.1, 0.88, 0.9]
xb_a_f_x = [0.1, 0.2, 0.3, 0.7, 0.97, 0.9]
xb_a_f_y = [1.11, 1.02, 0.92, 0.52, 0.59, 0.45]
xb_b_o_x = [0.8, 0.6, 0.5, 0.4, 0.2, 0.0, -0.2, -0.4, -0.5, -0.6, -0.8, -1.0, -1.2, -1.2,
            -1.5, -1.5, 0.2, 0.0, -0.2, -0.4, -0.5, -0.6, -0.8, -1.0, -1.2,
            0.2, 0.0, -0.2, -0.4, -0.5, -0.6, -0.8, -1.0, -1.5,
            0.0, -0.2, -0.4, -0.5, -0.6, -0.8, -0.8, -0.8, -1.0, -1.0, -1.0, -1.2, -1.2,
            -1.5, -1.5, -2.0, -2.0, -2.0, 0.0, -0.2, -0.4, -0.6, -0.6,
            0.98, 0.98, 0.98, 0.9, 0.8, 0.8, 0.8, 0.8, 0.8, 0.6, 0.6, 0.6, 0.6, 0.5, 0.5,
            0.5, 0.4, 0.4, 0.2, 0.2]
xb_b_o_y = [0.375, 0.468, 0.49, 0.5, 0.516, 0.516, 0.512, 0.5, 0.496, 0.484, 0.45, 0.4, 0.33,
            0.484, 0.46, 0.363, 0.72, 0.74, 0.75, 0.75, 0.73, 0.726, 0.68, 0.6, 0.58,
            0.82, 0.815, 0.8, 0.77, 0.76, 0.75, 0.71, 0.66, 0.625,
            1.02, 1.06, 1.06, 1.06, 1.05, 1.1, 1.065, 1.0, 1.04, 0.99, 0.95, 0.92, 0.87,
            0.91, 0.85, 0.91, 0.88, 1.14, 1.165, 1.15, 1.14, 1.16, 1.12,
            0.2, 0.28, 0.36, 0.45, 0.35, 0.55, 0.65, 0.72, 0.86, 0.62, 0.71, 0.8, 0.98, 0.65,
            0.82, 0.93, 0.87, 1.02, 1.0, 1.16]
xb_b_f_x = [0.98, 0.9, 0.9, 0.9, 0.9, 0.8, 0.8, 0.7, 0.7, 0.7, 0.6, 0.6, 0.5, 0.3]
xb_b_f_y = [0.3, 0.35, 0.49, 0.67, 0.78, 0.6, 0.91, 0.59, 0.71, 0.99, 0.85, 1.09, 1.16, 1.13]

# ---------------- styling of the irreps ----------------
FONT = "Liberation Serif"
GAP = "\u2002\u2002"  # room between legend symbol and label, as in the original
COLS = [
    dict(names=["A1", "A2", "B1", "B2", "E1", "E2"],
         labels=["Γ.<i>A</i>1", "Γ.<i>A</i>2", "Γ.<i>B</i>1", "Γ.<i>B</i>2",
                 "Γ.<i>E</i>1", "Γ.<i>E</i>2"],
         colors=["#74a9cf", "#4292c6", "#3a8fc2", "#0868ac", "#0a5289", "#033a5e"],
         symbols=["circle", "square", "triangle-up", "triangle-down", "star", "x"]),
    dict(names=["A1", "A2", "B1", "B2"],
         labels=["<i>M</i>.A1", "<i>M</i>.A2", "<i>M</i>.B1", "<i>M</i>.B2"],
         colors=["#ffc107", "#ffb300", "#ffad00", "#ff9a00"],
         symbols=["circle", "square", "triangle-up", "triangle-down"]),
    dict(names=["A1", "A2", "E"],
         labels=["<i>K</i>.A1", "<i>K</i>.A2", "<i>K</i>.E"],
         colors=["#7fc266", "#5cad5f", "#03805f"],
         symbols=["circle", "square", "pentagon"]),
    dict(names=["A", "B"],
         labels=["<i>X</i>.A", "<i>X</i>.B"],
         colors=["#df65b0", "#ce1256"],
         symbols=["circle", "triangle-up"]),
]
SIZES = {"circle": 24, "square": 23, "triangle-up": 25, "triangle-down": 25, "star": 21,
         "x": 26, "pentagon": 24}

# (irrep, filled/open, x source, y values); an int x source is a start index into V
PANELS = {
    (1, 1): [
        ("A1", "o", 0, gt_a1_o_zero), ("A1", "o", 1, gt_a1_o_low), ("A1", "o", 4, gt_a1_o_mid),
        ("A1", "o", 10, gt_a1_o_hi), ("A1", "f", 5, gt_a1_f_mid),
        ("A1", "f", gt_a1_f_pts_x, gt_a1_f_pts_y), ("A1", "o", gt_a1_o_pts_x, gt_a1_o_pts_y),
        ("A2", "o", 7, gt_a2_o_mid), ("A2", "o", 7, gt_a2_o_top),
        ("A2", "o", gt_a2_o_pts_x, gt_a2_o_pts_y), ("A2", "f", 23, gt_a2_f_tail),
        ("A2", "f", gt_a2_f_pts_x, gt_a2_f_pts_y),
        ("B1", "o", 3, gt_b1_o_mid), ("B1", "o", gt_b1_o_pts_x, gt_b1_o_pts_y),
        ("B1", "f", gt_b1_f_pts_x, gt_b1_f_pts_y),
        ("B2", "o", gt_b2_o_pts_x, gt_b2_o_pts_y), ("B2", "f", gt_b2_f_pts_x, gt_b2_f_pts_y),
        ("E1", "f", gt_e1_f_pts_x, gt_e1_f_pts_y),
        ("E2", "f", 3, gt_e2_f_hi), ("E2", "o", 0, gt_e2_o_low), ("E2", "o", 1, gt_e2_o_mida),
        ("E2", "o", 1, gt_e2_o_midb), ("E2", "o", 4, gt_e2_o_hi), ("E2", "o", 9, gt_e2_o_top),
        ("E2", "o", 1, gt_e2_o_rise1), ("E2", "o", 1, gt_e2_o_rise2),
        ("E2", "o", gt_e2_o_pts_x, gt_e2_o_pts_y),
    ],
    (1, 2): [
        ("A1", "o", 7, mt_a1_o_r1), ("A1", "o", 8, mt_a1_o_r2), ("A1", "o", 6, mt_a1_o_top),
        ("A1", "o", mt_a1_o_pts_x, mt_a1_o_pts_y), ("A1", "f", mt_a1_f_pts_x, mt_a1_f_pts_y),
        ("A2", "f", 6, mt_a2_f_r1), ("A2", "o", 5, mt_a2_o_r1),
        ("A2", "o", mt_a2_o_pts_x, mt_a2_o_pts_y), ("A2", "f", mt_a2_f_pts_x, mt_a2_f_pts_y),
        ("B1", "f", 1, mt_b1_f_low), ("B1", "f", mt_b1_f_pts_x, mt_b1_f_pts_y),
        ("B1", "o", 1, mt_b1_o_low), ("B1", "o", 3, mt_b1_o_r1), ("B1", "o", 2, mt_b1_o_r2),
        ("B1", "o", 1, mt_b1_o_r3), ("B1", "o", mt_b1_o_tail_x, mt_b1_o_tail_y),
        ("B1", "o", mt_b1_o_pts_x, mt_b1_o_pts_y),
        ("B2", "f", mt_b2_f_pts_x, mt_b2_f_pts_y), ("B2", "o", 0, mt_b2_o_arc),
        ("B2", "o", 4, mt_b2_o_r1), ("B2", "o", 1, mt_b2_o_r2), ("B2", "o", 1, mt_b2_o_r3),
        ("B2", "o", 24, mt_b2_o_tail_hi), ("B2", "o", 23, mt_b2_o_tail_lo),
        ("B2", "o", mt_b2_o_pts_x, mt_b2_o_pts_y),
    ],
    (1, 3): [
        ("A1", "o", 6, kt_a1_o_1), ("A1", "o", kt_a1_o_pts_x, kt_a1_o_pts_y),
        ("A1", "f", kt_a1_f_pts_x, kt_a1_f_pts_y),
        ("A2", "o", 6, kt_a2_o_1), ("A2", "o", 9, kt_a2_o_top), ("A2", "o", 4, kt_a2_o_2),
        ("A2", "o", kt_a2_o_pts_x, kt_a2_o_pts_y), ("A2", "f", kt_a2_f_pts_x, kt_a2_f_pts_y),
        ("E", "f", 2, kt_e_f_low), ("E", "f", 5, kt_e_f_2), ("E", "f", kt_e_f_pts_x, kt_e_f_pts_y),
        ("E", "o", 1, kt_e_o_low), ("E", "o", 1, kt_e_o_2), ("E", "o", 4, kt_e_o_3),
        ("E", "o", 9, kt_e_o_4), ("E", "o", 8, kt_e_o_5), ("E", "o", 2, kt_e_o_6),
        ("E", "o", 3, kt_e_o_7), ("E", "o", 3, kt_e_o_8), ("E", "o", kt_e_o_pts_x, kt_e_o_pts_y),
    ],
    (1, 4): [
        ("A", "f", 1, xt_a_f_low), ("A", "f", 3, xt_a_f_2), ("A", "f", 14, xt_a_f_4),
        ("A", "f", xt_a_f_right_x, xt_a_f_right_y), ("A", "f", xt_a_f_pts_x, xt_a_f_pts_y),
        ("A", "o", 1, xt_a_o_low), ("A", "o", 3, xt_a_o_2), ("A", "o", 5, xt_a_o_3),
        ("A", "o", 9, xt_a_o_4), ("A", "o", 8, xt_a_o_5),
        ("A", "o", xt_a_o_right_x, xt_a_o_right_y), ("A", "o", xt_a_o_pts_x, xt_a_o_pts_y),
        ("B", "f", 2, xt_b_f_top), ("B", "f", xt_b_f_pts_x, xt_b_f_pts_y),
        ("B", "o", 4, xt_b_o_1), ("B", "o", 3, xt_b_o_2), ("B", "o", 6, xt_b_o_3),
        ("B", "o", 5, xt_b_o_4), ("B", "o", 4, xt_b_o_5), ("B", "o", 3, xt_b_o_6),
        ("B", "o", xt_b_o_right_x, xt_b_o_right_y), ("B", "o", xt_b_o_pts_x, xt_b_o_pts_y),
    ],
    (2, 1): [
        ("A1", "o", gb_a1_o_pts_x, gb_a1_o_pts_y), ("A1", "f", gb_a1_f_pts_x, gb_a1_f_pts_y),
        ("A2", "f", 0, gb_e2_f_1), ("A2", "f", 1, gb_e2_f_2), ("A2", "f", 2, gb_e2_f_3),
        ("A2", "f", 4, gb_e2_f_4), ("A2", "f", 5, gb_e2_f_5),
        ("A2", "f", "VS", gb_e2_o_1), ("A2", "f", "VS", gb_e2_o_2), ("A2", "f", "VS", gb_e2_o_3),
        ("A2", "f", "VS", gb_e2_o_4), ("A2", "f", gb_e2_o_pts_x, gb_e2_o_pts_y),
        ("A2", "o", gb_a2_o_pts_x, gb_a2_o_pts_y), ("A2", "f", gb_a2_f_pts_x, gb_a2_f_pts_y),
        ("B1", "o", gb_b1_o_pts_x, gb_b1_o_pts_y), ("B1", "f", gb_b1_f_pts_x, gb_b1_f_pts_y),
        ("B2", "o", gb_b2_o_pts_x, gb_b2_o_pts_y), ("B2", "f", gb_b2_f_pts_x, gb_b2_f_pts_y),
        ("E1", "f", gb_e1_f_pts_x, gb_e1_f_pts_y),
        ("E2", "f", 0, gb_e2_f_1), ("E2", "f", 1, gb_e2_f_2), ("E2", "f", 2, gb_e2_f_3),
        ("E2", "f", 4, gb_e2_f_4), ("E2", "f", 5, gb_e2_f_5),
        ("E2", "o", "VS", gb_e2_o_1), ("E2", "o", "VS", gb_e2_o_2), ("E2", "o", "VS", gb_e2_o_3),
        ("E2", "o", "VS", gb_e2_o_4), ("E2", "o", gb_e2_o_pts_x, gb_e2_o_pts_y),
    ],
    (2, 2): [
        ("A1", "o", "VS", mb_a1_o_1), ("A1", "o", "VS", mb_a1_o_2),
        ("A2", "f", mb_a2_f_pts_x, mb_a2_f_pts_y),
        ("A2", "o", "VS", mb_a2_o_1), ("A2", "o", "VS", mb_a2_o_2),
        ("B1", "f", 1, mb_f_1), ("B1", "f", 1, mb_f_2), ("B1", "f", 2, mb_f_3),
        ("B1", "f", 3, mb_f_4), ("B1", "f", 4, mb_f_5), ("B1", "f", mb_b_f_pts_x, mb_b_f_pts_y),
        ("B1", "o", "VS", mb_b1_o_1), ("B1", "o", "VS", mb_b1_o_2),
        ("B1", "o", mb_b1_o_pts_x, mb_b1_o_pts_y),
        ("B2", "f", 1, mb_f_1), ("B2", "f", 1, mb_f_2), ("B2", "f", 2, mb_f_3),
        ("B2", "f", 3, mb_f_4), ("B2", "f", 4, mb_f_5), ("B2", "f", mb_b_f_pts_x, mb_b_f_pts_y),
        ("B2", "o", "VS", mb_b2_o_1), ("B2", "o", "VS", mb_b2_o_2), ("B2", "o", "VS", mb_b2_o_3),
        ("B2", "o", mb_b2_o_pts_x, mb_b2_o_pts_y),
    ],
    (2, 3): [
        ("A1", "o", kb_a1_o_x, kb_a1_o_y),
        ("A2", "f", kb_a2_f_x, kb_a2_f_y), ("A2", "o", kb_e_o_x, kb_e_o_y),
        ("E", "f", kb_e_f_x, kb_e_f_y), ("E", "o", kb_e_o_x, kb_e_o_y),
    ],
    (2, 4): [
        ("A", "f", xb_a_f_x, xb_a_f_y), ("A", "o", xb_a_o_x, xb_a_o_y),
        ("B", "f", xb_b_f_x, xb_b_f_y), ("B", "o", xb_b_o_x, xb_b_o_y),
    ],
}

X_DOM = [(217, 831), (916, 1530), (1616, 2230), (2315, 2929)]
Y_DOM = [(113, 646), (784, 1316)]
W, H = 3000, 1500

fig = make_subplots(rows=2, cols=4)

# legend entries (filled markers), one legend per top panel
for c in range(1, 5):
    st = COLS[c - 1]
    leg = "legend" if c == 1 else "legend%d" % c
    for lab, col, sym in zip(st["labels"], st["colors"], st["symbols"]):
        fig.add_trace(go.Scatter(x=[None], y=[None], mode="markers", name=GAP + lab,
                                 legend=leg, legendgroup="%d%s" % (c, lab),
                                 marker=dict(symbol=sym, size=16, color=col, line=dict(width=0))),
                      row=1, col=c)

for (r, c), entries in PANELS.items():
    st = COLS[c - 1]
    order = sorted(entries, key=lambda e: (st["names"].index(e[0]), e[1]))
    for irrep, kind, xs, ys in order:
        k = st["names"].index(irrep)
        if isinstance(xs, int):
            xs = V[xs:xs + len(ys)]
        elif isinstance(xs, str):
            xs = VS[:len(ys)]
        sym, color = st["symbols"][k], st["colors"][k]
        if kind == "f":
            marker = dict(symbol=sym, size=SIZES[sym], color=color, line=dict(width=0))
        else:
            marker = dict(symbol=sym, size=SIZES[sym], color="white",
                          line=dict(color=color, width=4))
        fig.add_trace(go.Scatter(x=xs, y=ys, mode="markers", marker=marker,
                                 showlegend=False, hoverinfo="skip"), row=r, col=c)

axis_common = dict(ticks="outside", ticklen=14, tickwidth=3, tickcolor="black",
                   showline=True, mirror=True, linecolor="black", linewidth=3,
                   showgrid=True, gridcolor="#b0b0b0", gridwidth=2.5, zeroline=False,
                   automargin=False, tickfont=dict(family=FONT, size=44, color="black"))
title_font = dict(family=FONT, size=44, color="black")
for r in (1, 2):
    for c in range(1, 5):
        x0, x1 = X_DOM[c - 1]
        y0, y1 = Y_DOM[r - 1]
        fig.update_xaxes(row=r, col=c, range=[1, -2], tickvals=[1, 0, -1, -2],
                         showticklabels=(r == 2), domain=[x0 / W, x1 / W], **axis_common)
        fig.update_yaxes(row=r, col=c, range=[0, 1.2], tickvals=[0, 0.25, 0.5, 0.75, 1.0],
                         tickformat=".2f", showticklabels=(c == 1),
                         domain=[1 - y1 / H, 1 - y0 / H], ticklabelstandoff=8, **axis_common)
        if r == 2:
            fig.update_xaxes(row=r, col=c, title=dict(text="<i>V</i>/<i>t</i>", standoff=12,
                                                      font=title_font))
        if c == 1:
            fig.update_yaxes(row=r, col=c,
                             title=dict(text="<i>E</i> − <i>E</i><sub>0</sub>", standoff=20,
                                        font=title_font))

for r, text, ybot in ((1, "trivial topo. sector", 97), (2, "nontrivial topo. sector", 767)):
    for c in range(1, 5):
        x0, x1 = X_DOM[c - 1]
        fig.add_annotation(text=text, xref="paper", yref="paper", x=(x0 + x1) / 2 / W,
                           y=1 - ybot / H, xanchor="center", yanchor="bottom", showarrow=False,
                           font=dict(family=FONT, size=61, color="black"))

leg_common = dict(bgcolor="rgba(255,255,255,0.8)", bordercolor="#cccccc", borderwidth=2,
                  font=dict(family=FONT, size=46, color="black"), xanchor="right",
                  yanchor="top", y=1 - 134 / H, itemsizing="trace", tracegroupgap=3)
fig.update_layout(
    width=W, height=H, margin=dict(l=0, r=0, t=0, b=0),
    paper_bgcolor="white", plot_bgcolor="white",
    font=dict(family=FONT, color="black"),
    legend=dict(x=807 / W, **leg_common),
    legend2=dict(x=1507 / W, **leg_common),
    legend3=dict(x=2206 / W, **leg_common),
    legend4=dict(x=2905 / W, **leg_common),
)

fig.write_html("out.html")
